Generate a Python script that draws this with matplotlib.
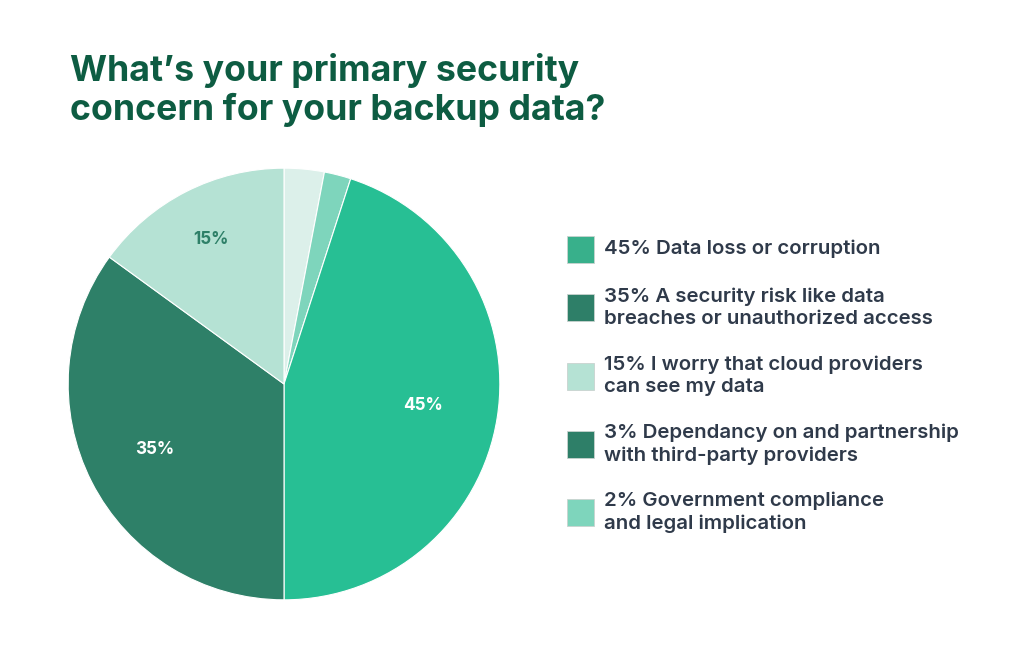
import matplotlib
matplotlib.use("Agg")
import matplotlib.pyplot as plt
import numpy as np
from matplotlib.patches import Rectangle

# datos del grafico (orden como aparece en el pie, sentido horario desde arriba)
pie_valores = [3, 2, 45, 35, 15]
pie_colores = ['#dcf0ea', '#7ed5bc', '#27bf94', '#2e8068', '#b5e2d4']
pie_etiquetas = ['', '', '45%', '35%', '15%']
etiqueta_colores = ['white', 'white', 'white', 'white', '#2e8068']
etiqueta_dist = [0.7, 0.7, 0.65, 0.67, 0.75]

leyenda_textos = [
    '45% Data loss or corruption',
    '35% A security risk like data\nbreaches or unauthorized access',
    '15% I worry that cloud providers\ncan see my data',
    '3% Dependancy on and partnership\nwith third-party providers',
    '2% Government compliance\nand legal implication',
]
leyenda_colores = ['#38b08b', '#2e7f68', '#b5e2d4', '#2e7f68', '#7ed5bc']
leyenda_y = [249, 308, 376, 444, 512]  # centro de cada entrada, px desde arriba

W, H = 1024, 647
fig = plt.figure(figsize=(W / 100, H / 100), dpi=100)
fig.patch.set_facecolor('white')

plt.rcParams['font.family'] = ['Inter', 'DejaVu Sans']

# pie
cx, cy, r = 284, 384, 218
ax = fig.add_axes([(cx - r) / W, (H - cy - r) / H, 2 * r / W, 2 * r / H])
wedges, _ = ax.pie(pie_valores, colors=pie_colores, startangle=90,
                   counterclock=False, radius=1,
                   wedgeprops=dict(linewidth=0.8, edgecolor='white'))
for w, lab, col, d in zip(wedges, pie_etiquetas, etiqueta_colores, etiqueta_dist):
    if not lab:
        continue
    ang = np.deg2rad((w.theta1 + w.theta2) / 2)
    ax.text(d * np.cos(ang), d * np.sin(ang), lab, ha='center', va='center',
            color=col, fontsize=12.3, fontweight='bold')
ax.set_xlim(-1.01, 1.01)
ax.set_ylim(-1.01, 1.01)
ax.set_aspect('equal')
ax.axis('off')

# titulo
fig.text(70 / W, 1 - 53 / H, 'What\u2019s your primary security\nconcern for your backup data?',
         ha='left', va='top', fontsize=25.7, fontweight='bold', color='#0d5c42',
         linespacing=1.19)

# leyenda
sq = 27
for txt, col, yc in zip(leyenda_textos, leyenda_colores, leyenda_y):
    fig.patches.append(Rectangle(((567) / W, (H - yc - sq / 2) / H), sq / W, sq / H,
                                 transform=fig.transFigure, facecolor=col,
                                 edgecolor='#c9d3cf', linewidth=0.6))
    fig.text(604 / W, 1 - yc / H, txt, ha='left', va='center', fontsize=14.7,
             fontweight='semibold', color='#2f3a4a', linespacing=1.31)

fig.savefig('out.png', dpi=100, facecolor='white')
